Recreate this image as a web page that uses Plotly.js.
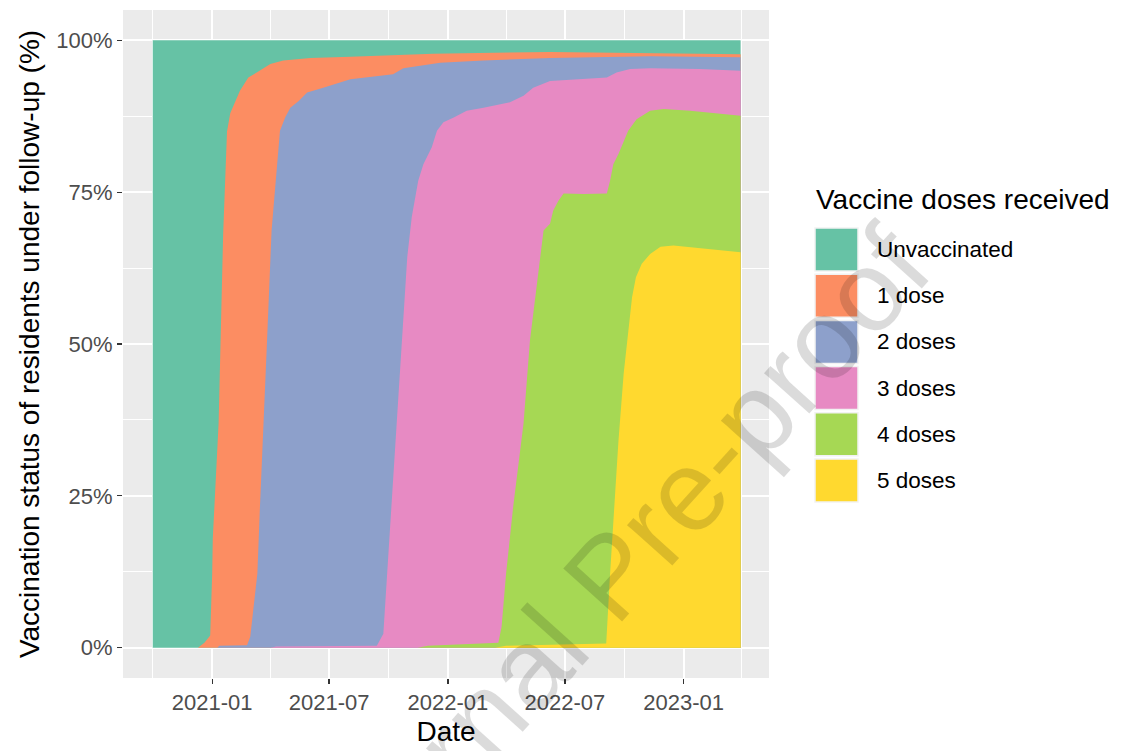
<!DOCTYPE html>
<html>
<head>
<meta charset="utf-8">
<script src="https://cdn.plot.ly/plotly-3.0.1.min.js"></script>
<style>html,body{margin:0;padding:0;background:#fff;}#chart{width:1128px;height:751px;}</style>
</head>
<body>
<div id="chart"></div>
<script>
// ---- Data: share of residents (%) having received AT LEAST N doses ----
const categories = ["Unvaccinated", "1 dose", "2 doses", "3 doses", "4 doses", "5 doses"];
const colors = ["#66C2A5", "#FC8D62", "#8DA0CB", "#E78AC3", "#A6D854", "#FFD92F"];

const datesAll = ["2020-10-01", "2023-03-30"];
const pctAll = [100, 100];

const datesAtLeast1 = ["2020-10-01","2020-12-10","2020-12-20","2020-12-29","2021-01-01","2021-01-02","2021-01-11","2021-01-14","2021-01-18","2021-01-24","2021-01-29","2021-02-13","2021-02-26","2021-03-11","2021-04-01","2021-04-21","2021-06-02","2021-08-03","2021-12-09","2022-06-08","2022-11-10","2023-03-30"];
const pctAtLeast1 = [0,0,0.8,2.0,12,18,37,50,68,85,88,91.7,93.9,94.7,96.1,96.7,97.1,97.3,97.8,98.1,97.9,97.7];

const datesAtLeast2 = ["2020-10-01","2021-01-09","2021-01-12","2021-02-24","2021-03-01","2021-03-07","2021-03-12","2021-03-16","2021-03-21","2021-03-27","2021-04-03","2021-04-11","2021-04-16","2021-04-24","2021-05-02","2021-05-15","2021-05-28","2021-06-22","2021-07-23","2021-08-03","2021-10-08","2021-10-24","2021-12-20","2022-02-25","2022-06-08","2022-11-10","2023-03-30"];
const pctAtLeast2 = [0,0,0.3,0.4,1.8,7.8,12.2,23.2,36.9,50.6,68.7,79.6,85.1,87.3,88.9,90.0,91.4,92.2,93.3,93.6,94.4,95.4,96.3,96.7,97.1,97.4,97.2];

const datesAtLeast3 = ["2020-10-01","2021-04-01","2021-04-10","2021-09-13","2021-09-23","2021-09-29","2021-10-06","2021-10-14","2021-10-22","2021-10-30","2021-11-06","2021-11-16","2021-11-24","2021-12-07","2021-12-15","2021-12-25","2022-01-10","2022-01-30","2022-02-25","2022-04-07","2022-04-28","2022-05-13","2022-06-08","2022-09-04","2022-09-19","2022-10-10","2022-11-10","2023-01-26","2023-03-30"];
const pctAtLeast3 = [0,0,0.2,0.3,2.3,12.2,23.2,36.9,50.6,64.3,70.9,76.9,79.6,82.4,85.1,86.5,87.3,88.4,88.9,89.8,90.9,92.2,93.3,93.9,94.7,95.3,95.4,95.3,95.0];

const datesAtLeast4 = ["2020-10-01","2021-11-15","2021-12-01","2022-03-20","2022-03-25","2022-04-01","2022-04-12","2022-04-28","2022-05-08","2022-05-20","2022-05-29","2022-06-08","2022-06-13","2022-06-21","2022-06-29","2022-07-30","2022-09-04","2022-09-09","2022-09-14","2022-09-22","2022-09-30","2022-10-07","2022-10-20","2022-11-10","2022-12-01","2023-01-11","2023-03-30"];
const pctAtLeast4 = [0,0,0.3,0.8,3.4,12.2,23.2,36.9,50.6,60.4,68.7,69.8,72.0,73.6,74.8,74.7,74.8,76.9,79.6,81.3,83.5,85.1,87.0,88.4,88.7,88.4,87.6];

const datesAtLeast5 = ["2020-10-01","2022-03-15","2022-04-01","2022-09-03","2022-09-09","2022-09-15","2022-09-22","2022-09-30","2022-10-06","2022-10-13","2022-10-19","2022-10-28","2022-11-10","2022-11-26","2022-12-16","2023-01-26","2023-03-04","2023-03-30"];
const pctAtLeast5 = [0,0,0.3,0.7,12.2,23.2,34.1,45.1,50.6,57.7,61.0,63.2,64.8,66.0,66.2,65.8,65.4,65.1];

const yTickVals = [0, 25, 50, 75, 100];
const yTickText = ["0%", "25%", "50%", "75%", "100%"];
const legendTitle = "Vaccine doses received";
const xTitle = "Date";
const yTitle = "Vaccination status of residents under follow-up (%)";
const watermark = "Journal Pre-proof";

// ---- Traces: painted from the top layer (100%) downwards, each filled to zero ----
const seriesX = [datesAll, datesAtLeast1, datesAtLeast2, datesAtLeast3, datesAtLeast4, datesAtLeast5];
const seriesY = [pctAll, pctAtLeast1, pctAtLeast2, pctAtLeast3, pctAtLeast4, pctAtLeast5];
const traces = categories.map((name, i) => ({
  type: "scatter", mode: "lines", name: name,
  x: seriesX[i], y: seriesY[i],
  fill: "tozeroy", fillcolor: colors[i],
  line: {width: 0, color: colors[i]},
  showlegend: false, hoverinfo: "x+y+name"
}));

// ---- Layout geometry (pixels) ----
const W = 1128, H = 751;
const L = 123, R = 769, T = 10, B = 678;
const px = x => (x - L) / (R - L);
const py = y => (B - y) / (B - T);

const FONT = "Liberation Sans, Arial, Helvetica, sans-serif";
const shapes = [];
const annotations = [];

// manual ggplot-style legend
annotations.push({xref: "paper", yref: "paper", x: px(814), y: py(200), xanchor: "left", yanchor: "middle",
  text: legendTitle, showarrow: false, font: {family: FONT, size: 28, color: "#000000"}});
const keyTop = 228, keyStep = 46.2, keyH = 43, keyL = 815, keyR = 858;
categories.forEach((name, i) => {
  const top = keyTop + i * keyStep;
  shapes.push({type: "rect", xref: "paper", yref: "paper", layer: "above",
    x0: px(keyL), x1: px(keyR), y0: py(top + keyH), y1: py(top),
    fillcolor: colors[i], line: {color: "#F2F2F2", width: 1.5}});
  annotations.push({xref: "paper", yref: "paper", x: px(875), y: py(top + keyH / 2), xanchor: "left", yanchor: "middle",
    text: name, showarrow: false, font: {family: FONT, size: 22.5, color: "#000000"}});
});

// journal watermark
annotations.push({xref: "paper", yref: "paper", x: px(610), y: py(575), xanchor: "center", yanchor: "middle",
  text: watermark, showarrow: false, textangle: -48,
  font: {family: FONT, size: 115, color: "rgba(0,0,0,0.14)"}});

const layout = {
  width: W, height: H,
  margin: {l: L, r: W - R, t: T, b: H - B, pad: 0},
  paper_bgcolor: "#FFFFFF", plot_bgcolor: "#EBEBEB",
  font: {family: FONT, color: "#000000"},
  showlegend: false,
  xaxis: {
    type: "date", range: ["2020-08-16", "2023-05-13"],
    tick0: "2021-01-01", dtick: "M6", tickformat: "%Y-%m",
    ticks: "outside", ticklen: 5, tickwidth: 1.3, tickcolor: "#333333",
    tickfont: {family: FONT, size: 22, color: "#4D4D4D"},
    showgrid: true, gridcolor: "#FFFFFF", gridwidth: 2,
    minor: {tick0: "2020-10-01", dtick: "M3", showgrid: true, gridcolor: "#FFFFFF", gridwidth: 1, ticks: ""},
    zeroline: false, showline: false, automargin: false,
    title: {text: xTitle, font: {family: FONT, size: 28, color: "#000000"}, standoff: 6}
  },
  yaxis: {
    range: [-5, 105], tickvals: yTickVals, ticktext: yTickText,
    ticks: "outside", ticklen: 5, tickwidth: 1.3, tickcolor: "#333333",
    tickfont: {family: FONT, size: 22, color: "#4D4D4D"},
    showgrid: true, gridcolor: "#FFFFFF", gridwidth: 2,
    minor: {tick0: 0, dtick: 12.5, showgrid: true, gridcolor: "#FFFFFF", gridwidth: 1, ticks: ""},
    zeroline: false, showline: false, automargin: false,
    title: {text: yTitle, font: {family: FONT, size: 28, color: "#000000"}, standoff: 8}
  },
  shapes: shapes,
  annotations: annotations
};

Plotly.newPlot("chart", traces, layout, {displayModeBar: false, staticPlot: true});
</script>
</body>
</html>
